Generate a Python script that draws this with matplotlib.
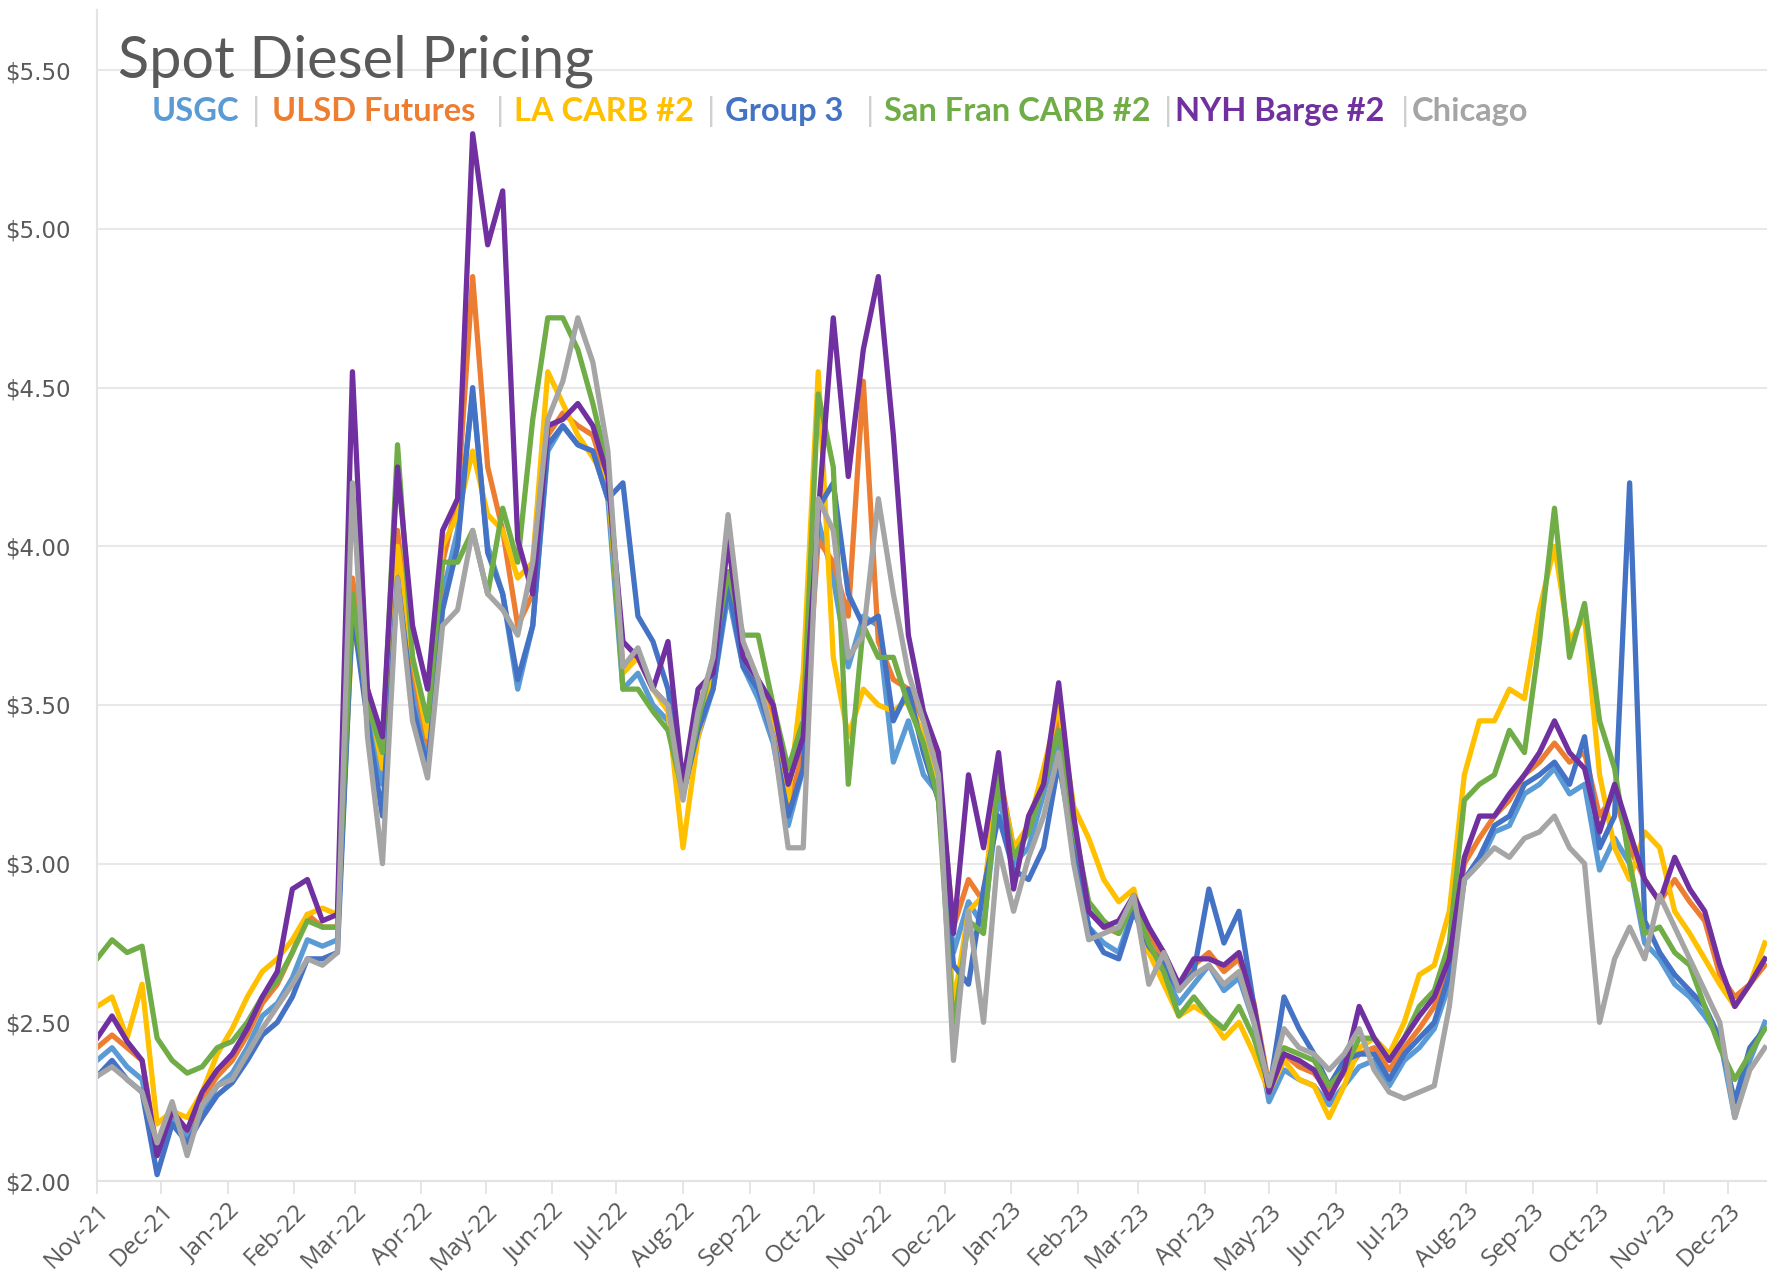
import matplotlib
matplotlib.use("Agg")
import matplotlib.pyplot as plt
import matplotlib.dates as mdates
from matplotlib.ticker import FuncFormatter
import pandas as pd

# weekly readings, Nov 1 2021 .. Dec 18 2023
dates = pd.date_range("2021-11-01", periods=112, freq="7D")

usgc = [2.38, 2.42, 2.36, 2.32, 2.08, 2.20, 2.14, 2.22, 2.30, 2.34, 2.42, 2.52, 2.56, 2.64, 2.76, 2.74,
        2.76, 3.80, 3.50, 3.25, 3.95, 3.55, 3.32, 3.85, 4.05, 4.48, 4.00, 3.85, 3.55, 3.75, 4.30, 4.38,
        4.32, 4.30, 4.15, 3.55, 3.60, 3.50, 3.45, 3.22, 3.40, 3.55, 3.85, 3.62, 3.52, 3.38, 3.12, 3.30,
        4.08, 3.90, 3.62, 3.78, 3.75, 3.32, 3.45, 3.28, 3.22, 2.72, 2.88, 2.80, 3.22, 3.00, 3.05, 3.22,
        3.40, 3.08, 2.80, 2.75, 2.72, 2.86, 2.72, 2.66, 2.56, 2.62, 2.68, 2.60, 2.64, 2.50, 2.25, 2.35,
        2.32, 2.30, 2.24, 2.30, 2.36, 2.38, 2.30, 2.38, 2.42, 2.48, 2.62, 2.95, 3.00, 3.10, 3.12, 3.22,
        3.25, 3.30, 3.22, 3.25, 2.98, 3.08, 3.00, 2.75, 2.70, 2.62, 2.58, 2.52, 2.45, 2.20, 2.38, 2.50]
ulsd = [2.42, 2.46, 2.42, 2.38, 2.10, 2.22, 2.16, 2.26, 2.33, 2.38, 2.46, 2.56, 2.62, 2.72, 2.84, 2.80,
        2.80, 3.90, 3.55, 3.35, 4.05, 3.62, 3.38, 3.95, 4.15, 4.85, 4.25, 4.05, 3.75, 3.85, 4.35, 4.42,
        4.38, 4.35, 4.20, 3.62, 3.65, 3.55, 3.50, 3.28, 3.45, 3.60, 3.92, 3.65, 3.58, 3.45, 3.18, 3.35,
        4.02, 3.95, 3.78, 4.52, 3.70, 3.58, 3.55, 3.45, 3.30, 2.80, 2.95, 2.88, 3.30, 3.05, 3.10, 3.28,
        3.45, 3.12, 2.85, 2.80, 2.78, 2.90, 2.78, 2.70, 2.62, 2.68, 2.72, 2.66, 2.70, 2.56, 2.30, 2.40,
        2.36, 2.34, 2.28, 2.34, 2.40, 2.42, 2.35, 2.42, 2.48, 2.55, 2.68, 3.00, 3.08, 3.15, 3.20, 3.28,
        3.32, 3.38, 3.32, 3.35, 3.15, 3.22, 3.05, 2.95, 2.88, 2.95, 2.88, 2.82, 2.65, 2.58, 2.62, 2.68]
la_carb = [2.55, 2.58, 2.45, 2.62, 2.18, 2.22, 2.20, 2.28, 2.40, 2.48, 2.58, 2.66, 2.70, 2.76, 2.84, 2.86,
           2.84, 3.75, 3.55, 3.30, 4.00, 3.65, 3.40, 4.00, 4.10, 4.30, 4.10, 4.05, 3.90, 3.95, 4.55, 4.45,
           4.35, 4.28, 4.20, 3.60, 3.65, 3.55, 3.48, 3.05, 3.40, 3.60, 3.90, 3.65, 3.58, 3.42, 3.20, 3.60,
           4.55, 3.65, 3.40, 3.55, 3.50, 3.48, 3.52, 3.40, 3.25, 2.55, 2.85, 2.90, 3.28, 3.05, 3.12, 3.30,
           3.50, 3.18, 3.08, 2.95, 2.88, 2.92, 2.72, 2.62, 2.52, 2.55, 2.52, 2.45, 2.50, 2.40, 2.28, 2.38,
           2.32, 2.30, 2.20, 2.30, 2.42, 2.45, 2.40, 2.50, 2.65, 2.68, 2.85, 3.28, 3.45, 3.45, 3.55, 3.52,
           3.80, 4.00, 3.70, 3.78, 3.28, 3.05, 2.95, 3.10, 3.05, 2.85, 2.78, 2.70, 2.62, 2.55, 2.62, 2.75]
group3 = [2.33, 2.38, 2.32, 2.28, 2.02, 2.18, 2.12, 2.20, 2.27, 2.31, 2.38, 2.46, 2.50, 2.58, 2.70, 2.70,
          2.72, 3.80, 3.45, 3.15, 3.90, 3.50, 3.30, 3.80, 4.00, 4.50, 3.98, 3.85, 3.58, 3.75, 4.32, 4.38,
          4.32, 4.30, 4.15, 4.20, 3.78, 3.70, 3.55, 3.22, 3.42, 3.55, 3.88, 3.62, 3.55, 3.40, 3.15, 3.30,
          4.12, 4.20, 3.85, 3.75, 3.78, 3.45, 3.55, 3.35, 3.20, 2.68, 2.62, 2.92, 3.15, 2.98, 2.95, 3.05,
          3.32, 3.05, 2.80, 2.72, 2.70, 2.85, 2.74, 2.68, 2.60, 2.66, 2.92, 2.75, 2.85, 2.55, 2.28, 2.58,
          2.48, 2.40, 2.30, 2.38, 2.40, 2.40, 2.32, 2.40, 2.45, 2.50, 2.65, 2.95, 3.02, 3.12, 3.15, 3.25,
          3.28, 3.32, 3.25, 3.40, 3.05, 3.15, 4.20, 2.82, 2.72, 2.65, 2.60, 2.55, 2.45, 2.25, 2.42, 2.48]
sf_carb = [2.70, 2.76, 2.72, 2.74, 2.45, 2.38, 2.34, 2.36, 2.42, 2.44, 2.50, 2.58, 2.63, 2.72, 2.82, 2.80,
           2.80, 3.85, 3.50, 3.35, 4.32, 3.65, 3.45, 3.95, 3.95, 4.05, 3.85, 4.12, 3.95, 4.40, 4.72, 4.72,
           4.62, 4.45, 4.25, 3.55, 3.55, 3.48, 3.42, 3.22, 3.45, 3.65, 3.92, 3.72, 3.72, 3.50, 3.30, 3.45,
           4.48, 4.25, 3.25, 3.75, 3.65, 3.65, 3.50, 3.38, 3.20, 2.48, 2.82, 2.78, 3.28, 3.02, 3.10, 3.25,
           3.42, 3.12, 2.88, 2.82, 2.78, 2.88, 2.75, 2.66, 2.52, 2.58, 2.52, 2.48, 2.55, 2.45, 2.30, 2.42,
           2.40, 2.38, 2.30, 2.35, 2.45, 2.45, 2.38, 2.45, 2.55, 2.60, 2.75, 3.20, 3.25, 3.28, 3.42, 3.35,
           3.70, 4.12, 3.65, 3.82, 3.45, 3.30, 3.00, 2.78, 2.80, 2.72, 2.68, 2.55, 2.42, 2.32, 2.40, 2.48]
nyh = [2.45, 2.52, 2.44, 2.38, 2.08, 2.22, 2.16, 2.28, 2.35, 2.40, 2.48, 2.58, 2.66, 2.92, 2.95, 2.82,
       2.84, 4.55, 3.55, 3.40, 4.25, 3.75, 3.55, 4.05, 4.15, 5.30, 4.95, 5.12, 4.02, 3.85, 4.38, 4.40,
       4.45, 4.38, 4.22, 3.70, 3.65, 3.55, 3.70, 3.25, 3.55, 3.60, 4.02, 3.65, 3.58, 3.50, 3.25, 3.40,
       4.10, 4.72, 4.22, 4.62, 4.85, 4.35, 3.72, 3.48, 3.35, 2.78, 3.28, 3.05, 3.35, 2.92, 3.15, 3.25,
       3.57, 3.15, 2.85, 2.80, 2.82, 2.90, 2.80, 2.72, 2.62, 2.70, 2.70, 2.68, 2.72, 2.55, 2.28, 2.40,
       2.38, 2.35, 2.26, 2.35, 2.55, 2.45, 2.38, 2.45, 2.52, 2.58, 2.70, 3.02, 3.15, 3.15, 3.22, 3.28,
       3.35, 3.45, 3.35, 3.30, 3.10, 3.25, 3.10, 2.95, 2.88, 3.02, 2.92, 2.85, 2.68, 2.55, 2.62, 2.70]
chicago = [2.33, 2.36, 2.32, 2.28, 2.12, 2.25, 2.08, 2.24, 2.30, 2.32, 2.40, 2.48, 2.55, 2.62, 2.70, 2.68,
           2.72, 4.20, 3.40, 3.00, 3.90, 3.45, 3.27, 3.75, 3.80, 4.05, 3.85, 3.80, 3.72, 3.95, 4.40, 4.52,
           4.72, 4.58, 4.30, 3.62, 3.68, 3.55, 3.50, 3.20, 3.48, 3.65, 4.10, 3.70, 3.58, 3.40, 3.05, 3.05,
           4.15, 4.05, 3.65, 3.72, 4.15, 3.85, 3.60, 3.45, 3.28, 2.38, 2.85, 2.50, 3.05, 2.85, 3.02, 3.15,
           3.35, 3.00, 2.76, 2.78, 2.80, 2.90, 2.62, 2.72, 2.60, 2.65, 2.68, 2.62, 2.66, 2.50, 2.30, 2.48,
           2.42, 2.40, 2.35, 2.40, 2.48, 2.35, 2.28, 2.26, 2.28, 2.30, 2.55, 2.95, 3.00, 3.05, 3.02, 3.08,
           3.10, 3.15, 3.05, 3.00, 2.50, 2.70, 2.80, 2.70, 2.90, 2.80, 2.70, 2.60, 2.50, 2.20, 2.35, 2.42]

names = ["USGC", "ULSD Futures", "LA CARB #2", "Group 3", "San Fran CARB #2", "NYH Barge #2", "Chicago"]
colors = ["#5B9BD5", "#ED7D31", "#FFC000", "#4472C4", "#70AD47", "#7030A0", "#A5A5A5"]
series = [usgc, ulsd, la_carb, group3, sf_carb, nyh, chicago]

fig = plt.figure(figsize=(17.67, 12.83), dpi=100)
ax = fig.add_axes([0.0549, 0.0795, 0.9451, 0.9127])

for vals, c in zip(series, colors):
    ax.plot(dates, vals, color=c, lw=3.8, solid_joinstyle="round")

ax.set_ylim(2.0, 5.69)
ax.set_xlim(pd.Timestamp("2021-11-01"), pd.Timestamp("2023-12-19"))
ax.set_yticks([2.0, 2.5, 3.0, 3.5, 4.0, 4.5, 5.0, 5.5])
ax.yaxis.set_major_formatter(FuncFormatter(lambda v, p: f"${v:.2f}"))
ax.xaxis.set_major_locator(mdates.MonthLocator())
ax.xaxis.set_major_formatter(mdates.DateFormatter("%b-%y"))

ax.grid(axis="y", color="#E8E8E8", lw=1.5)
ax.set_axisbelow(True)
for s in ["top", "right"]:
    ax.spines[s].set_visible(False)
for s in ["left", "bottom"]:
    ax.spines[s].set_color("#E3E3E3")
    ax.spines[s].set_linewidth(1.5)

ax.tick_params(axis="y", length=0, pad=19, labelcolor="#595959", labelsize=16.5)
ax.tick_params(axis="x", length=9, width=1.3, color="#E3E3E3", pad=4, labelcolor="#595959", labelsize=17.5)
for lab in ax.get_xticklabels():
    lab.set_rotation(45)
    lab.set_ha("right")
    lab.set_rotation_mode("anchor")
    lab.set_family("Open Sans")

fig.text(118 / 1767, 1 - 77 / 1283, "Spot Diesel Pricing", fontsize=41.5, color="#595959",
         family="Lato", va="baseline")

# legend row of coloured names separated by bars
leg_x = [152, 272, 514, 725, 884, 1175, 1412]
sep_x = [252, 496, 707, 866, 1164, 1401]
leg_y = 1 - 121 / 1283
for x, n, c in zip(leg_x, names, colors):
    fig.text(x / 1767, leg_y, n, fontsize=23.5, color=c, family="Lato", weight="bold", va="baseline")
for x in sep_x:
    fig.text(x / 1767, leg_y, "|", fontsize=24, color="#D0D0D0", family="Lato", va="baseline")

fig.savefig("out.png", dpi=100)
